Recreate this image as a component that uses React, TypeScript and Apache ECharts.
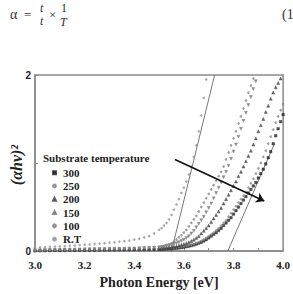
import React, { useEffect, useRef } from "react";
import * as echarts from "echarts";

// Photon energy grids (eV): coarse for the absorption tail, fine for the edge
const tailEnergy = [
  3.0, 3.02, 3.04, 3.06, 3.08, 3.1, 3.12, 3.14, 3.16, 3.18, 3.2, 3.22, 3.24,
  3.26, 3.28, 3.3, 3.32, 3.34, 3.36, 3.38, 3.4, 3.42, 3.44, 3.46, 3.48,
];
const edgeEnergy = [
  3.5, 3.51, 3.52, 3.53, 3.54, 3.55, 3.56, 3.57, 3.58, 3.59, 3.6, 3.61, 3.62,
  3.63, 3.64, 3.65, 3.66, 3.67, 3.68, 3.69, 3.7, 3.71, 3.72, 3.73, 3.74, 3.75,
  3.76, 3.77, 3.78, 3.79, 3.8, 3.81, 3.82, 3.83, 3.84, 3.85, 3.86, 3.87, 3.88,
  3.89, 3.9, 3.91, 3.92, 3.93, 3.94, 3.95, 3.96, 3.97, 3.98, 3.99, 4.0,
];

// (αhν)² values per substrate temperature
const rtTail = [
  0.04, 0.042, 0.045, 0.048, 0.05, 0.053, 0.056, 0.06, 0.064, 0.068, 0.072,
  0.076, 0.08, 0.085, 0.09, 0.095, 0.1, 0.106, 0.113, 0.12, 0.13, 0.14, 0.155,
  0.17, 0.2,
];
const rtEdge = [
  0.24, 0.26, 0.29, 0.32, 0.36, 0.41, 0.47, 0.53, 0.59, 0.66, 0.72, 0.79, 0.87,
  0.96, 1.07, 1.2, 1.36, 1.54, 1.74, 1.95,
];
const t100Tail = [
  0.012, 0.013, 0.014, 0.015, 0.016, 0.017, 0.018, 0.019, 0.02, 0.021, 0.022,
  0.023, 0.024, 0.025, 0.026, 0.027, 0.028, 0.029, 0.03, 0.032, 0.034, 0.036,
  0.039, 0.042, 0.046,
];
const t100Edge = [
  0.05, 0.055, 0.06, 0.07, 0.08, 0.09, 0.11, 0.13, 0.155, 0.18, 0.21, 0.24,
  0.28, 0.32, 0.36, 0.4, 0.45, 0.5, 0.55, 0.6, 0.65, 0.7, 0.75, 0.8, 0.85, 0.9,
  0.96, 1.04, 1.12, 1.2, 1.28, 1.36, 1.45, 1.53, 1.62, 1.71, 1.8, 1.88, 1.96,
];
const t150Tail = [
  0.01, 0.011, 0.012, 0.013, 0.014, 0.015, 0.016, 0.017, 0.018, 0.019, 0.02,
  0.021, 0.022, 0.023, 0.024, 0.025, 0.026, 0.027, 0.028, 0.029, 0.03, 0.032,
  0.034, 0.036, 0.038,
];
const t150Edge = [
  0.04, 0.045, 0.05, 0.055, 0.06, 0.07, 0.08, 0.09, 0.1, 0.115, 0.13, 0.15,
  0.17, 0.2, 0.23, 0.27, 0.31, 0.35, 0.39, 0.44, 0.49, 0.54, 0.6, 0.66, 0.72,
  0.78, 0.84, 0.9, 0.97, 1.05, 1.13, 1.21, 1.3, 1.39, 1.48, 1.57, 1.66, 1.75,
  1.84, 1.93,
];
const t200Tail = [
  0.008, 0.009, 0.01, 0.011, 0.012, 0.013, 0.014, 0.015, 0.016, 0.017, 0.018,
  0.019, 0.02, 0.021, 0.021, 0.022, 0.022, 0.023, 0.024, 0.024, 0.025, 0.026,
  0.027, 0.028, 0.029,
];
const t200Edge = [
  0.03, 0.032, 0.035, 0.038, 0.042, 0.046, 0.05, 0.056, 0.064, 0.072, 0.08,
  0.09, 0.1, 0.115, 0.13, 0.15, 0.17, 0.2, 0.23, 0.26, 0.29, 0.33, 0.37, 0.41,
  0.45, 0.49, 0.54, 0.59, 0.64, 0.69, 0.74, 0.79, 0.85, 0.9, 0.96, 1.02, 1.08,
  1.14, 1.21, 1.28, 1.36, 1.43, 1.5, 1.58, 1.65, 1.73, 1.8, 1.86, 1.91, 1.96,
];
const t250Tail = [
  0.006, 0.007, 0.008, 0.009, 0.01, 0.011, 0.012, 0.012, 0.013, 0.014, 0.014,
  0.015, 0.016, 0.016, 0.017, 0.018, 0.018, 0.019, 0.019, 0.02, 0.021, 0.021,
  0.022, 0.023, 0.024,
];
const t250Edge = [
  0.025, 0.027, 0.029, 0.031, 0.033, 0.036, 0.039, 0.042, 0.046, 0.05, 0.055,
  0.06, 0.066, 0.073, 0.08, 0.09, 0.1, 0.115, 0.13, 0.15, 0.17, 0.19, 0.21,
  0.235, 0.26, 0.29, 0.32, 0.35, 0.39, 0.43, 0.47, 0.51, 0.55, 0.59, 0.63,
  0.67, 0.72, 0.77, 0.82, 0.88, 0.94, 1.0, 1.07, 1.14, 1.22, 1.3, 1.38, 1.46,
  1.53, 1.6, 1.67,
];
const t300Tail = [
  0.005, 0.006, 0.006, 0.007, 0.008, 0.008, 0.009, 0.01, 0.01, 0.011, 0.011,
  0.012, 0.012, 0.013, 0.013, 0.014, 0.014, 0.015, 0.015, 0.016, 0.016, 0.017,
  0.017, 0.018, 0.019,
];
const t300Edge = [
  0.02, 0.021, 0.022, 0.024, 0.026, 0.028, 0.03, 0.033, 0.036, 0.04, 0.045,
  0.05, 0.056, 0.063, 0.07, 0.08, 0.09, 0.1, 0.115, 0.13, 0.15, 0.17, 0.19,
  0.21, 0.235, 0.26, 0.29, 0.32, 0.35, 0.38, 0.42, 0.46, 0.5, 0.54, 0.58, 0.62,
  0.66, 0.7, 0.74, 0.78, 0.83, 0.88, 0.93, 0.99, 1.06, 1.13, 1.22, 1.31, 1.39,
  1.47, 1.55,
];

// Linear extrapolations to the energy axis
const fitLow = [
  [3.55, 0],
  [3.724, 2],
];
const fitHigh = [
  [3.777, 0],
  [3.965, 1.22],
];
// Trend arrow across the curves
const trendArrow = [
  [3.564, 1.04],
  [3.924, 0.57],
];

const xTicks = ["3.0", "3.2", "3.4", "3.6", "3.8", "4.0"];
const legendNames = ["300", "250", "200", "150", "100", "R.T"];

const pair = (tail: number[], edge: number[]) =>
  tailEnergy
    .map((e, i) => [e, tail[i]])
    .concat(edgeEnergy.slice(0, edge.length).map((e, i) => [e, edge[i]]));

const SERIF = "Liberation Serif";
const SANS = "Liberation Sans";

export default function App() {
  const ref = useRef<HTMLDivElement>(null);

  useEffect(() => {
    if (!ref.current) return;
    const chart = echarts.init(ref.current, undefined, { renderer: "svg" });

    const dot = (
      name: string,
      data: number[][],
      symbol: string,
      size: number,
      color: string,
      extra: any = {}
    ) => ({
      name,
      type: "scatter",
      data,
      symbol,
      symbolSize: size,
      itemStyle: { color, borderWidth: 0.5, borderColor: color },
      z: 3,
      ...extra,
    });

    const txt = (
      text: string,
      x: number,
      y: number,
      size: number,
      extra: any = {}
    ) => ({
      type: "text",
      x,
      y,
      style: {
        text,
        fontFamily: SERIF,
        fontSize: size,
        fill: "#333",
        verticalAlign: "middle",
        ...extra,
      },
    });

    chart.setOption({
      animation: false,
      backgroundColor: "#fff",
      grid: {
        left: 35,
        top: 75,
        right: 7,
        bottom: 33,
        show: true,
        borderColor: "#8a8a8a",
        borderWidth: 1.5,
      },
      xAxis: {
        type: "value",
        min: 3,
        max: 4,
        interval: 0.2,
        name: "Photon Energy [eV]",
        nameLocation: "middle",
        nameGap: 23,
        nameTextStyle: {
          fontFamily: SERIF,
          fontWeight: "bold",
          fontSize: 14,
          color: "#222",
        },
        axisLine: { lineStyle: { color: "#8a8a8a", width: 1.5 } },
        axisTick: { inside: true, length: 3, lineStyle: { color: "#8a8a8a" } },
        minorTick: {
          show: true,
          splitNumber: 2,
          length: 3,
          lineStyle: { color: "#8a8a8a" },
        },
        splitLine: { show: false },
        axisLabel: {
          fontFamily: SERIF,
          fontWeight: "bold",
          fontSize: 11,
          color: "#222",
          margin: 8,
          formatter: (v: number) => xTicks[Math.round((v - 3) / 0.2)] ?? "",
        },
      },
      yAxis: {
        type: "value",
        min: 0,
        max: 2,
        interval: 1,
        axisLine: { lineStyle: { color: "#8a8a8a", width: 1.5 } },
        axisTick: { inside: true, length: 3, lineStyle: { color: "#8a8a8a" } },
        splitLine: { show: false },
        axisLabel: {
          fontFamily: SANS,
          fontWeight: "bold",
          fontSize: 10,
          color: "#222",
          margin: 4,
          formatter: (v: number) => (v === 1 ? "" : String(v)),
        },
      },
      legend: {
        data: legendNames,
        orient: "vertical",
        left: 52,
        top: 166,
        itemWidth: 3,
        itemHeight: 3,
        itemGap: 0,
        padding: 0,
        textStyle: {
          fontFamily: SERIF,
          fontWeight: "bold",
          fontSize: 11,
          lineHeight: 13.3,
          color: "#222",
          padding: [0, 0, 0, 2],
        },
      },
      graphic: [
        txt("α", 10, 14, 14),
        txt("=", 24, 14, 13),
        txt("t", 40, 8, 12, { fontStyle: "italic" }),
        txt("t", 40, 21, 12, { fontStyle: "italic" }),
        txt("×", 49, 14, 13),
        txt("1", 61, 8, 12),
        txt("T", 60, 22, 12, { fontStyle: "italic" }),
        txt("(1", 282, 14, 14),
        txt("Substrate temperature", 43, 158, 11, {
          fontWeight: "bold",
          fill: "#222",
        }),
        {
          type: "text",
          x: 16,
          y: 165,
          rotation: Math.PI / 2,
          style: {
            text: "(αhν)²",
            fontFamily: SERIF,
            fontWeight: "bold",
            fontStyle: "italic",
            fontSize: 16,
            fill: "#222",
            align: "center",
            verticalAlign: "middle",
          },
        },
      ],
      series: [
        dot("300", pair(t300Tail, t300Edge), "rect", 2.5, "#222"),
        dot("250", pair(t250Tail, t250Edge), "circle", 2, "#888"),
        dot("200", pair(t200Tail, t200Edge), "triangle", 3, "#444"),
        dot("150", pair(t150Tail, t150Edge), "triangle", 3, "#777", {
          symbolRotate: 180,
        }),
        dot("100", pair(t100Tail, t100Edge), "circle", 2, "#888"),
        dot("R.T", pair(rtTail, rtEdge), "circle", 2, "#999"),
        {
          name: "fitLow",
          type: "line",
          data: fitLow,
          showSymbol: false,
          lineStyle: { color: "#555", width: 0.8 },
          z: 2,
        },
        {
          name: "fitHigh",
          type: "line",
          data: fitHigh,
          showSymbol: false,
          lineStyle: { color: "#555", width: 0.8 },
          z: 2,
        },
        {
          name: "trend",
          type: "lines",
          coordinateSystem: "cartesian2d",
          data: [{ coords: trendArrow }],
          symbol: ["none", "arrow"],
          symbolSize: 8,
          lineStyle: { color: "#111", width: 1.6, opacity: 1 },
          z: 4,
        },
      ],
    });

    return () => chart.dispose();
  }, []);

  return (
    <div
      ref={ref}
      style={{ position: "fixed", left: 0, top: 0, width: 293, height: 294 }}
    />
  );
}
